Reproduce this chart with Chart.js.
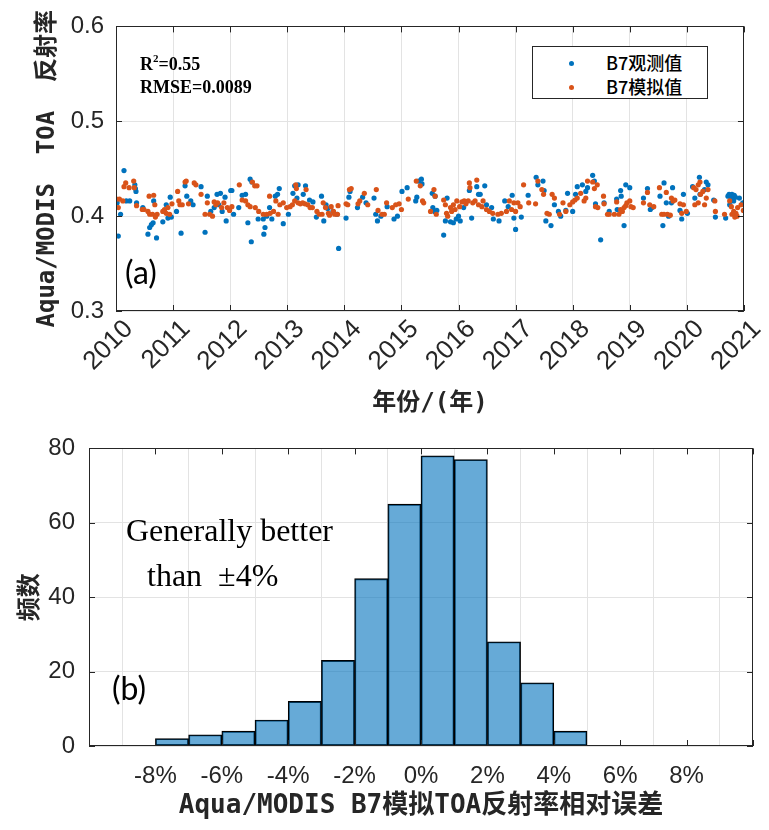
<!DOCTYPE html>
<html>
<head>
<meta charset="utf-8">
<script src="https://cdn.jsdelivr.net/npm/chart.js@4.4.1/dist/chart.umd.min.js"></script>
<style>
  body { margin: 0; background: #fff; width: 769px; height: 830px; position: relative; overflow: hidden; }
  canvas { position: absolute; left: 0; }
  #scatterChart { top: 0; }
  #histChart { top: 420px; }
  .note { position: absolute; white-space: nowrap; color: #000; line-height: 1; }
  .stat { font-family: 'Liberation Serif', serif; font-weight: bold; font-size: 18px; }
  .stat sup { font-size: 11px; vertical-align: 8px; }
  .panel { font-family: Lato, 'Open Sans', sans-serif; font-size: 32px; }
  .legend { position: absolute; left: 532px; top: 46px; width: 174px; height: 51px; border: 1px solid #262626; background: #fff; }
  .legend .row { position: absolute; left: 0; height: 20px; font-family: 'Noto Sans CJK SC', sans-serif; font-size: 18px; font-weight: 500; line-height: 20px; }
  .legend .dot { position: absolute; left: 36px; top: 8px; width: 5px; height: 5px; border-radius: 50%; }
  .legend .txt { position: absolute; left: 73px; top: -1px; white-space: nowrap; }
  .remark { font-family: 'Liberation Serif', serif; font-size: 32px; }
</style>
</head>
<body>
<canvas id="scatterChart" width="769" height="420"></canvas>
<canvas id="histChart" width="769" height="410"></canvas>

<div class="legend">
  <div class="row" style="top:6px"><span class="dot" style="background:#0072BD"></span><span class="txt">B7观测值</span></div>
  <div class="row" style="top:30px"><span class="dot" style="background:#D95319"></span><span class="txt">B7模拟值</span></div>
</div>
<div class="note stat" style="left:140px;top:53px">R<sup>2</sup>=0.55</div>
<div class="note stat" style="left:140px;top:78px">RMSE=0.0089</div>
<div class="note panel" style="left:125px;top:256px">(a)</div>
<div class="note panel" style="left:112px;top:672px">(b)</div>
<div class="note remark" style="left:126px;top:514px">Generally better</div>
<div class="note remark" style="left:147px;top:559px">than&nbsp;&nbsp;±4%</div>

<script>
/* ── Colours & fonts ───────────────────────────────────────── */
const BLUE   = '#0072BD';
const ORANGE = '#D95319';
const AXIS   = '#262626';
const GRID   = '#e3e3e3';
const TICK_FONT  = { family: "'Liberation Sans', Arial, sans-serif", size: 24 };
const YEAR_FONT  = { family: "'Liberation Sans', Arial, sans-serif", size: 26 };
const TITLE_FONT = { family: "'DejaVu Sans Mono', 'Noto Sans CJK SC', monospace", size: 24, weight: 'bold' };

/* ── Data: (a) time series ─────────────────────────────────── */
const yearTicks = [2010, 2011, 2012, 2013, 2014, 2015, 2016, 2017, 2018, 2019, 2020, 2021];
const reflTicks = [0.3, 0.4, 0.5, 0.6];

const obsYear = [
  2010.02, 2010.04, 2010.08, 2010.14, 2010.18, 2010.24, 2010.33, 2010.34, 2010.35, 2010.36,
  2010.47, 2010.56, 2010.59, 2010.62, 2010.65, 2010.66, 2010.71, 2010.82, 2010.88, 2010.91,
  2010.95, 2010.97, 2011.06, 2011.14, 2011.21, 2011.24, 2011.31, 2011.35, 2011.49, 2011.56,
  2011.60, 2011.66, 2011.72, 2011.77, 2011.80, 2011.83, 2011.86, 2011.91, 2011.93, 2012.01,
  2012.03, 2012.06, 2012.15, 2012.21, 2012.27, 2012.31, 2012.35, 2012.38, 2012.37, 2012.49,
  2012.58, 2012.61, 2012.59, 2012.64, 2012.69, 2012.73, 2012.79, 2012.83, 2012.86, 2012.93,
  2013.02, 2013.10, 2013.13, 2013.19, 2013.17, 2013.28, 2013.32, 2013.39, 2013.45, 2013.51,
  2013.60, 2013.64, 2013.68, 2013.71, 2013.80, 2013.87, 2013.90, 2014.03, 2014.08, 2014.10,
  2014.23, 2014.32, 2014.38, 2014.52, 2014.55, 2014.58, 2014.64, 2014.75, 2014.87, 2014.93,
  2015.01, 2015.10, 2015.25, 2015.27, 2015.30, 2015.35, 2015.36,
  2015.54, 2015.55, 2015.58, 2015.62, 2015.59, 2015.74, 2015.77, 2015.80, 2015.86, 2015.91,
  2015.96, 2016.00, 2016.03, 2016.09, 2016.19, 2016.23, 2016.32, 2016.35, 2016.38, 2016.46,
  2016.49, 2016.58, 2016.61, 2016.71, 2016.81, 2016.87, 2016.94, 2016.97, 2017.00, 2017.10,
  2017.22, 2017.36, 2017.39, 2017.48, 2017.50, 2017.53, 2017.62, 2017.68, 2017.75, 2017.79,
  2017.88, 2018.00, 2017.91, 2018.05, 2018.08, 2018.17, 2018.23, 2018.26,
  2018.35, 2018.38, 2018.40, 2018.49, 2018.55, 2018.64, 2018.77, 2018.78, 2018.84, 2018.85,
  2018.90, 2018.93, 2019.00, 2019.24, 2019.31, 2019.36, 2019.39, 2019.53, 2019.58, 2019.60,
  2019.64, 2019.68, 2019.75, 2019.73, 2019.88, 2019.91, 2019.94, 2020.01, 2020.10, 2020.14,
  2020.22, 2020.23, 2020.31, 2020.34, 2020.37, 2020.47, 2020.50, 2020.68, 2020.74, 2020.76,
  2020.79, 2020.82, 2020.85, 2020.75, 2020.92, 2020.98, 2020.72, 2020.78, 2020.80, 2020.83
];
const obsValue = [
  0.414, 0.379, 0.402, 0.448, 0.416, 0.416, 0.433, 0.429, 0.426, 0.414,
  0.409, 0.381, 0.388, 0.391, 0.393, 0.416, 0.377, 0.394, 0.412, 0.398,
  0.420, 0.399, 0.405, 0.382, 0.432, 0.421, 0.416, 0.412, 0.431, 0.383,
  0.421, 0.405, 0.409, 0.423, 0.412, 0.424, 0.405, 0.420, 0.395, 0.427,
  0.427, 0.402, 0.409, 0.422, 0.423, 0.393, 0.439, 0.436, 0.373, 0.397,
  0.397, 0.388, 0.381, 0.400, 0.409, 0.397, 0.421, 0.423, 0.429, 0.392,
  0.402, 0.424, 0.432, 0.433, 0.419, 0.423, 0.432, 0.417, 0.415, 0.399,
  0.421, 0.395, 0.412, 0.408, 0.405, 0.402, 0.366, 0.398, 0.420, 0.426,
  0.409, 0.420, 0.414, 0.419, 0.402, 0.395, 0.400, 0.410, 0.397, 0.400,
  0.426, 0.430, 0.416, 0.420, 0.437, 0.439, 0.434,
  0.424, 0.409, 0.405, 0.406, 0.421, 0.380, 0.395, 0.419, 0.394, 0.393,
  0.397, 0.400, 0.395, 0.409, 0.427, 0.398, 0.431, 0.423, 0.423, 0.432,
  0.412, 0.409, 0.397, 0.395, 0.416, 0.410, 0.422, 0.398, 0.386, 0.399,
  0.422, 0.441, 0.433, 0.437, 0.427, 0.395, 0.390, 0.412, 0.405, 0.400,
  0.406, 0.405, 0.424, 0.423, 0.431, 0.433, 0.426, 0.430,
  0.443, 0.437, 0.413, 0.375, 0.414, 0.405, 0.418, 0.407, 0.427, 0.421,
  0.390, 0.433, 0.430, 0.419, 0.429, 0.407, 0.409, 0.421, 0.390, 0.435,
  0.414, 0.400, 0.430, 0.414, 0.406, 0.397, 0.423, 0.403, 0.431, 0.419,
  0.441, 0.423, 0.428, 0.436, 0.433, 0.417, 0.399, 0.398, 0.423, 0.421,
  0.423, 0.416, 0.420, 0.412, 0.419, 0.414, 0.421, 0.418, 0.420, 0.422
];

const simYear = [
  2010.01, 2010.06, 2010.04, 2010.12, 2010.14, 2010.17, 2010.23, 2010.31, 2010.32, 2010.36,
  2010.46, 2010.49, 2010.56, 2010.58, 2010.59, 2010.64, 2010.66, 2010.68, 2010.69, 2010.72,
  2010.82, 2010.85, 2010.88, 2010.91, 2010.94, 2010.98, 2011.08, 2011.10, 2011.12, 2011.16,
  2011.21, 2011.23, 2011.27, 2011.37, 2011.40, 2011.49, 2011.56, 2011.60, 2011.64, 2011.69,
  2011.72, 2011.75, 2011.78, 2011.85, 2011.89, 2011.95, 2011.99, 2012.03, 2012.16, 2012.21,
  2012.27, 2012.31, 2012.35, 2012.39, 2012.43, 2012.47, 2012.44, 2012.50,
  2012.58, 2012.64, 2012.70, 2012.76, 2012.80, 2012.84, 2012.69, 2012.87, 2012.93, 2012.99,
  2013.05, 2013.09, 2013.13, 2013.15, 2013.16, 2013.19, 2013.23, 2013.27, 2013.31, 2013.33,
  2013.36, 2013.40, 2013.44, 2013.52, 2013.56, 2013.61, 2013.63, 2013.67, 2013.72, 2013.74,
  2013.77, 2013.81, 2013.83, 2013.88, 2013.89, 2014.03, 2014.06, 2014.09, 2014.12, 2014.24,
  2014.27, 2014.35, 2014.41, 2014.56, 2014.59, 2014.66, 2014.70, 2014.74, 2014.84, 2014.90,
  2014.96, 2015.00, 2015.12, 2015.26, 2015.33, 2015.37, 2015.39,
  2015.51, 2015.57, 2015.59, 2015.61, 2015.74, 2015.77, 2015.79, 2015.81, 2015.86, 2015.88,
  2015.91, 2015.94, 2015.97, 2016.02, 2016.06, 2016.10, 2016.13, 2016.17, 2016.19, 2016.20,
  2016.25, 2016.29, 2016.32, 2016.35, 2016.41, 2016.43, 2016.49, 2016.54, 2016.60, 2016.69,
  2016.75, 2016.84, 2016.89, 2016.93, 2016.97, 2017.00, 2017.04, 2017.08, 2017.14, 2017.23,
  2017.35, 2017.39, 2017.46, 2017.49, 2017.55, 2017.59, 2017.64, 2017.68, 2017.77, 2017.83,
  2017.88, 2017.95, 2018.00, 2018.04, 2018.08, 2018.14, 2018.20, 2018.23, 2018.26,
  2018.35, 2018.43, 2018.38, 2018.40, 2018.44, 2018.54, 2018.55, 2018.61, 2018.64, 2018.73,
  2018.77, 2018.81, 2018.84, 2018.87, 2018.90, 2018.93, 2018.95, 2019.00, 2019.02, 2019.06,
  2019.24, 2019.31, 2019.35, 2019.42, 2019.52, 2019.56, 2019.60, 2019.64, 2019.66, 2019.71,
  2019.73, 2019.76, 2019.79, 2019.88, 2019.91, 2019.94, 2019.99, 2020.12, 2020.16, 2020.20,
  2020.23, 2020.14, 2020.20, 2020.24, 2020.31, 2020.28, 2020.37, 2020.34, 2020.49, 2020.50,
  2020.66, 2020.75, 2020.78, 2020.79, 2020.82, 2020.84, 2020.86, 2020.89, 2020.88, 2020.95,
  2020.99
];
const simValue = [
  0.418, 0.418, 0.409, 0.416, 0.431, 0.435, 0.430, 0.437, 0.430, 0.411,
  0.407, 0.407, 0.405, 0.421, 0.402, 0.402, 0.422, 0.412, 0.399, 0.402,
  0.405, 0.407, 0.403, 0.409, 0.402, 0.413, 0.426, 0.416, 0.412, 0.412,
  0.436, 0.437, 0.413, 0.435, 0.433, 0.423, 0.402, 0.414, 0.402, 0.400,
  0.415, 0.412, 0.414, 0.409, 0.414, 0.409, 0.406, 0.410, 0.433, 0.417,
  0.416, 0.412, 0.410, 0.436, 0.432, 0.432, 0.409, 0.405,
  0.402, 0.402, 0.403, 0.405, 0.416, 0.402, 0.421, 0.412, 0.414, 0.409,
  0.410, 0.412, 0.416, 0.433, 0.429, 0.414, 0.413, 0.414, 0.413, 0.428,
  0.412, 0.409, 0.409, 0.405, 0.402, 0.402, 0.414, 0.409, 0.403, 0.401,
  0.410, 0.405, 0.402, 0.402, 0.411, 0.413, 0.412, 0.428, 0.429, 0.413,
  0.416, 0.424, 0.412, 0.428, 0.406, 0.402, 0.402, 0.414, 0.409, 0.412,
  0.413, 0.407, 0.418, 0.437, 0.432, 0.416, 0.414,
  0.405, 0.428, 0.421, 0.402, 0.417, 0.412, 0.403, 0.400, 0.409, 0.405,
  0.412, 0.407, 0.416, 0.410, 0.415, 0.416, 0.413, 0.416, 0.435, 0.430,
  0.414, 0.416, 0.438, 0.412, 0.410, 0.416, 0.407, 0.405, 0.403, 0.402,
  0.403, 0.405, 0.416, 0.407, 0.414, 0.405, 0.414, 0.410, 0.433, 0.414,
  0.413, 0.437, 0.428, 0.423, 0.403, 0.402, 0.423, 0.419, 0.402, 0.414,
  0.405, 0.412, 0.415, 0.417, 0.419, 0.424, 0.416, 0.419, 0.437,
  0.436, 0.433, 0.429, 0.410, 0.409, 0.421, 0.413, 0.402, 0.402, 0.402,
  0.415, 0.402, 0.407, 0.405, 0.409, 0.411, 0.414, 0.416, 0.410, 0.409,
  0.414, 0.425, 0.412, 0.410, 0.430, 0.402, 0.402, 0.425, 0.402, 0.401,
  0.419, 0.416, 0.417, 0.413, 0.403, 0.412, 0.405, 0.430, 0.428, 0.433,
  0.436, 0.412, 0.414, 0.423, 0.412, 0.426, 0.428, 0.419, 0.416, 0.405,
  0.402, 0.416, 0.410, 0.402, 0.405, 0.399, 0.403, 0.409, 0.400, 0.412,
  0.406
];

/* ── Data: (b) histogram of relative error (%) ─────────────── */
const binCenters = [-7.5, -6.5, -5.5, -4.5, -3.5, -2.5, -1.5, -0.5, 0.5, 1.5, 2.5, 3.5, 4.5, 5.5, 6.5, 7.5];
const binCounts  = [2, 3, 4, 7, 12, 23, 45, 65, 78, 77, 28, 17, 4, 0, 0, 0];
const errTicks   = [-10, -8, -6, -4, -2, 0, 2, 4, 6, 8, 10];
const countTicks = [0, 20, 40, 60, 80];

/* ── Box + inner tick marks (MATLAB style) ─────────────────── */
const framePlugin = {
  id: 'frame',
  afterDatasetsDraw(chart) {
    const { ctx, chartArea: a, scales } = chart;
    const L = 6;
    ctx.save();
    ctx.strokeStyle = AXIS;
    ctx.lineWidth = 1;
    ctx.beginPath();
    scales.x.ticks.forEach(t => {
      const px = Math.round(scales.x.getPixelForValue(t.value)) + 0.5;
      ctx.moveTo(px, a.bottom); ctx.lineTo(px, a.bottom - L);
      ctx.moveTo(px, a.top);    ctx.lineTo(px, a.top + L);
    });
    scales.y.ticks.forEach(t => {
      const py = Math.round(scales.y.getPixelForValue(t.value)) + 0.5;
      ctx.moveTo(a.left, py);  ctx.lineTo(a.left + L, py);
      ctx.moveTo(a.right, py); ctx.lineTo(a.right - L, py);
    });
    ctx.stroke();
    ctx.strokeRect(Math.round(a.left) + 0.5, Math.round(a.top) + 0.5,
                   Math.round(a.width) - 1, Math.round(a.height) - 1);
    ctx.restore();
  }
};

Chart.defaults.color = AXIS;
Chart.defaults.animation = false;

/* ── (a) scatter time series ───────────────────────────────── */
function initScatter() {
  const ctx = document.getElementById('scatterChart');
  new Chart(ctx, {
    type: 'scatter',
    data: {
      datasets: [
        { label: 'B7观测值', data: obsYear.map((x, i) => ({ x, y: obsValue[i] })),
          backgroundColor: BLUE, borderWidth: 0, pointRadius: 2.6, order: 2 },
        { label: 'B7模拟值', data: simYear.map((x, i) => ({ x, y: simValue[i] })),
          backgroundColor: ORANGE, borderWidth: 0, pointRadius: 2.6, order: 1 }
      ]
    },
    options: {
      responsive: false,
      devicePixelRatio: 1,
      layout: { padding: { top: 24, right: 19, bottom: 0, left: 0 } },
      plugins: { legend: { display: false }, tooltip: { enabled: false } },
      scales: {
        x: {
          type: 'linear', min: 2010, max: 2021,
          afterBuildTicks: s => { s.ticks = yearTicks.map(v => ({ value: v })); },
          afterFit: s => { s.height = 109; },
          ticks: { font: YEAR_FONT, color: AXIS, minRotation: 45, maxRotation: 45,
                   padding: 3, labelOffset: 13, autoSkip: false, callback: v => String(v) },
          grid: { color: GRID, drawTicks: false },
          border: { display: false },
          title: { display: true, text: '年份/(年)', font: TITLE_FONT, color: AXIS,
                   padding: { top: 0, bottom: 2 } }
        },
        y: {
          min: 0.3, max: 0.6,
          afterBuildTicks: s => { s.ticks = reflTicks.map(v => ({ value: v })); },
          afterFit: s => { s.width = 116; },
          ticks: { font: TICK_FONT, color: AXIS, padding: 12, callback: v => v.toFixed(1) },
          grid: { color: GRID, drawTicks: false },
          border: { display: false },
          title: { display: true, text: 'Aqua/MODIS  TOA  反射率', font: TITLE_FONT, color: AXIS,
                   padding: { top: 33, bottom: 0 } }
        }
      }
    },
    plugins: [framePlugin]
  });
}

/* ── (b) histogram ─────────────────────────────────────────── */
function initHistogram() {
  const ctx = document.getElementById('histChart');
  new Chart(ctx, {
    type: 'bar',
    data: {
      datasets: [{
        data: binCenters.map((x, i) => ({ x, y: binCounts[i] })),
        backgroundColor: 'rgba(0,114,189,0.6)',
        borderColor: '#000',
        borderWidth: 1.2,
        borderSkipped: false,
        barPercentage: 1,
        categoryPercentage: 1
      }]
    },
    options: {
      responsive: false,
      devicePixelRatio: 1,
      layout: { padding: { top: 25, right: 9, bottom: 0, left: 0 } },
      plugins: { legend: { display: false }, tooltip: { enabled: false } },
      scales: {
        x: {
          type: 'linear', min: -10, max: 10, offset: false,
          afterBuildTicks: s => { s.ticks = errTicks.map(v => ({ value: v })); },
          afterFit: s => { s.height = 84; },
          ticks: { font: TICK_FONT, color: AXIS, padding: 16, autoSkip: false, maxRotation: 0,
                   callback: v => (Math.abs(v) === 10 ? '' : v + '%') },
          grid: { color: GRID, drawTicks: false },
          border: { display: false },
          title: { display: true, text: 'Aqua/MODIS B7模拟TOA反射率相对误差',
                   font: { ...TITLE_FONT, size: 26 }, color: AXIS,
                   padding: { top: 0, bottom: 8 } }
        },
        y: {
          min: 0, max: 80,
          afterBuildTicks: s => { s.ticks = countTicks.map(v => ({ value: v })); },
          afterFit: s => { s.width = 89; },
          ticks: { font: TICK_FONT, color: AXIS, padding: 14 },
          grid: { color: GRID, drawTicks: false },
          border: { display: false },
          title: { display: true, text: '频数', font: TITLE_FONT, color: AXIS,
                   padding: { top: 16, bottom: 0 } }
        }
      }
    },
    plugins: [framePlugin]
  });
}

initScatter();
initHistogram();
</script>
</body>
</html>
